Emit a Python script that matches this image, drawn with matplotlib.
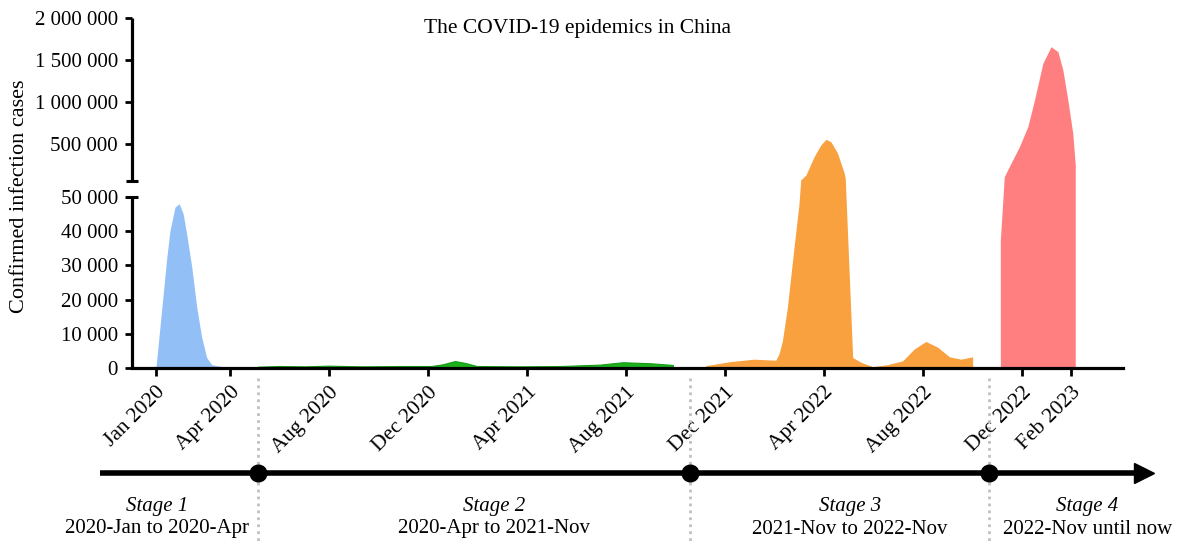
import numpy as np
import matplotlib
matplotlib.use("Agg")
import matplotlib.pyplot as plt
from matplotlib import transforms

# ---------------- data (x = months since Jan 2020) ----------------
blue_m = [0.0, 0.44, 0.57, 0.77, 0.94, 1.10, 1.24, 1.45, 1.65, 1.85, 2.05, 2.25, 2.6, 3.0]
blue_v = [0, 32400, 40300, 47100, 48100, 45200, 39300, 29500, 17700, 8900, 3000, 900, 400, 200]

green_m = [4.13, 5.0, 6.0, 7.0, 8.3, 9.9, 11.15, 11.6, 12.09, 12.5, 12.97, 14.7, 16.4, 17.95, 18.88, 20.0, 20.9]
green_v = [300, 500, 400, 600, 400, 500, 500, 1000, 1950, 1400, 500, 400, 500, 900, 1600, 1300, 800]

orange_m = [22.23, 23.24, 24.18, 25.06, 25.19, 25.33, 25.53, 25.80, 26.00, 26.07, 26.28,
            26.61, 26.88, 27.09, 27.29, 27.56, 27.83, 27.87, 28.17, 28.50, 28.98, 29.58,
            30.19, 30.66, 31.13, 31.61, 32.08, 32.55, 33.02]
orange_v = [600, 1800, 2500, 2200, 4000, 7900, 17700, 35400, 48000, 68000, 127000,
            345000, 484000, 552000, 523000, 386000, 148000, 88000, 3000, 1600, 300, 900,
            2000, 5500, 7700, 6000, 3200, 2500, 3200]

red_m = [34.14, 34.30, 34.57, 34.91, 35.25, 35.52, 35.86, 36.19, 36.47, 36.67, 36.87, 37.07, 37.17]
red_v = [37400, 107000, 267000, 464000, 702000, 1020000, 1457000, 1655000, 1595000,
         1377000, 1020000, 623000, 246000]

tick_months = [0, 3, 7, 11, 15, 19, 23, 27, 31, 35, 37]
tick_labels = ["Jan 2020", "Apr 2020", "Aug 2020", "Dec 2020", "Apr 2021", "Aug 2021",
               "Dec 2021", "Apr 2022", "Aug 2022", "Dec 2022", "Feb 2023"]

ytick_vals = [0, 10000, 20000, 30000, 40000, 50000, 500000, 1000000, 1500000, 2000000]

stage_bounds = [4.13, 21.6, 33.7]
stage_titles = ["Stage 1", "Stage 2", "Stage 3", "Stage 4"]
stage_ranges = ["2020-Jan to 2020-Apr", "2020-Apr to 2021-Nov",
                "2021-Nov to 2022-Nov", "2022-Nov until now"]

# ---------------- layout constants ----------------
stage_text_x = [0.04, 13.67, 28.06, 37.65]
LOW_MAX = 50000.0
LOW_H = 170.4
UP_BASE = 186.2
UP_SLOPE = 42.0 / 500000.0
TOP_T = UP_BASE + (2000000 - LOW_MAX) * UP_SLOPE


def fwd(v):
    v = np.asarray(v, dtype=float)
    return np.where(v <= LOW_MAX, v * LOW_H / LOW_MAX, UP_BASE + (v - LOW_MAX) * UP_SLOPE)


def inv(t):
    t = np.asarray(t, dtype=float)
    return np.where(t <= LOW_H, t * LOW_MAX / LOW_H,
                    np.where(t < UP_BASE, LOW_MAX, LOW_MAX + (t - UP_BASE) / UP_SLOPE))


plt.rcParams['font.family'] = ['Liberation Serif', 'DejaVu Serif']
W, H = 1178, 543
fig = plt.figure(figsize=(W / 100, H / 100), dpi=100)
ax = fig.add_axes([131.7 / W, 1 - 367.7 / H, (1123 - 131.7) / W, (367.7 - 17.7) / H])
ax.set_yscale('function', functions=(fwd, inv))
ax.set_ylim(0, 2000000)
ax.set_xlim(-0.98, 39.1)

ax.fill_between(blue_m, blue_v, 0, color='#92BFF6', lw=0)
ax.fill_between(green_m, green_v, 0, color='#1DB01D', lw=0.8, edgecolor='#139a13')
ax.fill_between(orange_m, orange_v, 0, color='#F9A03F', lw=0)
ax.fill_between(red_m, red_v, 0, color='#FF7F80', lw=0)

# spines
for s in ['top', 'right', 'left']:
    ax.spines[s].set_visible(False)
ax.spines['bottom'].set_linewidth(2.3)
ax.spines['bottom'].set_zorder(5)

lw_sp = 2.3
a_low = LOW_H / TOP_T
a_up = UP_BASE / TOP_T
ax.plot([0, 0], [0, a_low], transform=ax.transAxes, color='black', lw=lw_sp,
        clip_on=False, solid_capstyle='butt')
ax.plot([0, 0], [a_up, 1], transform=ax.transAxes, color='black', lw=lw_sp,
        clip_on=False, solid_capstyle='butt')
ax.plot([0, 0], [a_low, a_up], transform=ax.transAxes, ls='none', marker='_',
        ms=8, mew=2.2, color='black', clip_on=False)

ax.set_yticks(ytick_vals)
ax.set_yticklabels([f"{v:,}".replace(",", " ") for v in ytick_vals])
ax.yaxis.set_minor_locator(matplotlib.ticker.NullLocator())
ax.tick_params(axis='y', length=5, width=2, labelsize=15, pad=5)

ax.set_xticks(tick_months)
ax.set_xticklabels(tick_labels, rotation=45, ha='right', va='top', rotation_mode='anchor')
ax.tick_params(axis='x', length=6, width=2, labelsize=15.5, pad=5)

ax.set_ylabel("Confirmed infection cases", fontsize=16, labelpad=6)
ax.yaxis.set_label_coords(-0.104, 0.49)
ax.text(0.49, 1 - 28 / H, "The COVID-19 epidemics in China", transform=fig.transFigure,
        ha='center', va='center', fontsize=15.5)

# ---------------- timeline below ----------------
bt = transforms.blended_transform_factory(ax.transData, fig.transFigure)
line_y = 1 - 473 / H
for b in stage_bounds:
    ax.plot([b, b], [1 - 378 / H, 0], transform=bt, color='#c0c0c0', lw=2,
            ls=(0, (1, 1.5)), clip_on=False)
ax.plot([-2.26, 39.8], [line_y, line_y], transform=bt, color='black', lw=4,
        clip_on=False, solid_capstyle='butt')
ax.plot([39.95], [line_y], transform=bt, marker='>', ms=15, color='black',
        clip_on=False, ls='none')
ax.plot(stage_bounds, [line_y] * 3, transform=bt, marker='o', ms=12, color='black',
        ls='none', clip_on=False)

for x, t, r in zip(stage_text_x, stage_titles, stage_ranges):
    ax.text(x, 1 - 507 / H, t, transform=bt, ha='center', va='center', fontsize=15,
            style='italic')
    ax.text(x, 1 - 529 / H, r, transform=bt, ha='center', va='center', fontsize=15)

fig.savefig("out.png", dpi=100)
